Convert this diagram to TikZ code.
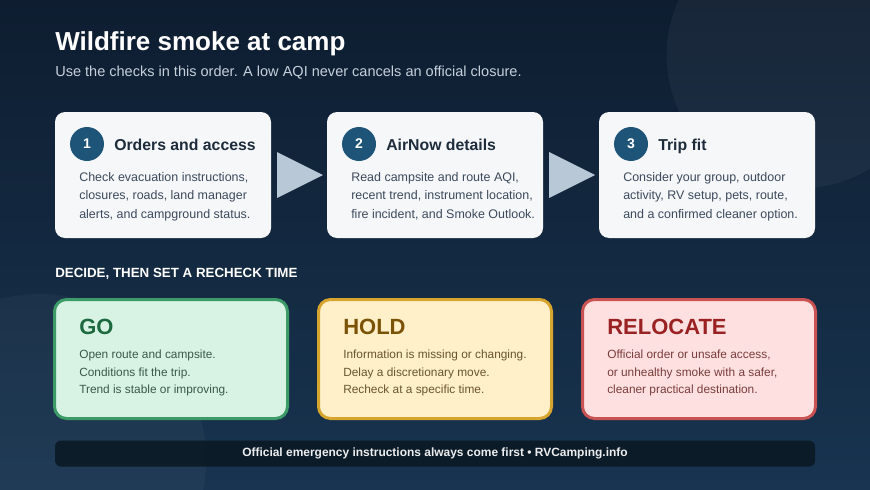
\documentclass[tikz,border=0pt]{standalone}
\usepackage{fontspec}
\setmainfont{Liberation Sans}
\usetikzlibrary{calc, positioning}

\definecolor{bgtop}{HTML}{0E1D30}
\definecolor{bgbot}{HTML}{183450}
\definecolor{subtext}{HTML}{C5D0DB}
\definecolor{cardfill}{HTML}{F5F7F9}
\definecolor{numfill}{HTML}{1E5477}
\definecolor{headtext}{HTML}{1E2B3B}
\definecolor{bodytext}{HTML}{3D4A5B}
\definecolor{tipfill}{HTML}{B8C8D6}
\definecolor{gofill}{HTML}{D8F3E4}
\definecolor{goline}{HTML}{3D9B68}
\definecolor{gohead}{HTML}{1E6A40}
\definecolor{gotext}{HTML}{3A5A48}
\definecolor{holdfill}{HTML}{FFF0C9}
\definecolor{holdline}{HTML}{D7A52D}
\definecolor{holdhead}{HTML}{7B5206}
\definecolor{holdtext}{HTML}{6A5530}
\definecolor{relofill}{HTML}{FFE0E0}
\definecolor{reloline}{HTML}{C95252}
\definecolor{relohead}{HTML}{9A2222}
\definecolor{relotext}{HTML}{7A3D3D}
\definecolor{footfill}{HTML}{0B1722}

\tikzset{
  card/.style={fill=cardfill, rounded corners=7.5pt, minimum width=162pt,
               minimum height=94.5pt, anchor=north west, inner sep=0pt, outer sep=0pt},
  stepnum/.style={circle, fill=numfill, text=white, minimum size=25.5pt,
                  inner sep=0pt, font=\fontsize{10.5}{12}\selectfont\bfseries},
  stephead/.style={anchor=base west, inner sep=0pt, text=headtext,
                   font=\fontsize{11.85}{14}\selectfont\bfseries},
  stepbody/.style={anchor=north west, inner sep=0pt, align=left, text=bodytext,
                   font=\fontsize{9.35}{13.6}\selectfont},
  flowtip/.style={fill=tipfill},
  choice/.style={rounded corners=9pt, line width=2.25pt, minimum width=174.75pt,
                 minimum height=89.25pt, anchor=north west, inner sep=0pt, outer sep=0pt},
  choicehead/.style={anchor=base west, inner sep=0pt,
                     font=\fontsize{16.5}{18}\selectfont\bfseries},
  choicebody/.style={anchor=north west, inner sep=0pt, align=left,
                     font=\fontsize{8.9}{13.1}\selectfont},
}

\begin{document}
\begin{tikzpicture}[x=0.75pt, y=-0.75pt]
  % Background
  \useasboundingbox (0,0) rectangle (870,489);
  \shade[top color=bgtop, bottom color=bgbot] (0,0) rectangle (870,489);
  \begin{scope}
    \clip (0,0) rectangle (870,489);
    \fill[white, opacity=0.045] (800,55) circle[radius=100pt];
    \fill[white, opacity=0.035] (40,460) circle[radius=124.5pt];
  \end{scope}

  % Title
  \node[anchor=base west, inner sep=0pt, text=white,
        font=\fontsize{19.5}{22}\selectfont\bfseries]
    (title) at (55,50) {Wildfire smoke at camp};
  \node[anchor=base west, inner sep=0pt, text=subtext,
        font=\fontsize{10.9}{13}\selectfont]
    (subtitle) at (55,76) {Use the checks in this order. A low AQI never cancels an official closure.};

  % Step cards
  \node[card] (c1) at (55,112) {};
  \node[card] (c2) at (327,112) {};
  \node[card] (c3) at (599,112) {};

  \node[stepnum] (n1) at ($(c1.north west)+(32,32)$) {1};
  \node[stepnum] (n2) at ($(c2.north west)+(32,32)$) {2};
  \node[stepnum] (n3) at ($(c3.north west)+(32,32)$) {3};

  \node[stephead] (h1) at ($(c1.north west)+(59,38)$) {Orders and access};
  \node[stephead] (h2) at ($(c2.north west)+(59,38)$) {AirNow details};
  \node[stephead] (h3) at ($(c3.north west)+(59,38)$) {Trip fit};

  \node[stepbody] (b1) at ($(c1.north west)+(24,60.5)$)
    {Check evacuation instructions,\\closures, roads, land manager\\alerts, and campground status.};
  \node[stepbody] (b2) at ($(c2.north west)+(24,60.5)$)
    {Read campsite and route AQI,\\recent trend, instrument location,\\fire incident, and Smoke Outlook.};
  \node[stepbody] (b3) at ($(c3.north west)+(24,60.5)$)
    {Consider your group, outdoor\\activity, RV setup, pets, route,\\and a confirmed cleaner option.};

  % Flow arrows
  \fill[flowtip] ($(c1.east)+(6,-23)$) -- ($(c1.east)+(6,23)$) -- ($(c2.west)+(-4,0)$) -- cycle;
  \fill[flowtip] ($(c2.east)+(6,-23)$) -- ($(c2.east)+(6,23)$) -- ($(c3.west)+(-4,0)$) -- cycle;

  % Decision row
  \node[anchor=base west, inner sep=0pt, text=white,
        font=\fontsize{10}{12}\selectfont\bfseries]
    (decide) at (55,277) {DECIDE, THEN SET A RECHECK TIME};

  \node[choice, draw=goline, fill=gofill] (go) at (54.5,299.5) {};
  \node[choice, draw=holdline, fill=holdfill] (hold) at (318.5,299.5) {};
  \node[choice, draw=reloline, fill=relofill] (relocate) at (582.5,299.5) {};

  \node[choicehead, text=gohead] (goh) at ($(go.north west)+(24.5,34.5)$) {GO};
  \node[choicehead, text=holdhead] (holdh) at ($(hold.north west)+(24.5,34.5)$) {HOLD};
  \node[choicehead, text=relohead] (relocateh) at ($(relocate.north west)+(24.5,34.5)$) {RELOCATE};

  \node[choicebody, text=gotext] (gob) at ($(go.north west)+(24.5,50.5)$)
    {Open route and campsite.\\Conditions fit the trip.\\Trend is stable or improving.};
  \node[choicebody, text=holdtext] (holdb) at ($(hold.north west)+(24.5,50.5)$)
    {Information is missing or changing.\\Delay a discretionary move.\\Recheck at a specific time.};
  \node[choicebody, text=relotext] (relocateb) at ($(relocate.north west)+(24.5,50.5)$)
    {Official order or unsafe access,\\or unhealthy smoke with a safer,\\cleaner practical destination.};

  % Footer
  \node[fill=footfill, fill opacity=0.85, text opacity=1, rounded corners=4.5pt,
        minimum width=570pt, minimum height=19.5pt, inner sep=0pt, text=white!92!bgtop,
        font=\fontsize{8.97}{11}\selectfont\bfseries]
    (footer) at (435,453.5) {Official emergency instructions always come first \textbullet{} RVCamping.info};
\end{tikzpicture}
\end{document}
